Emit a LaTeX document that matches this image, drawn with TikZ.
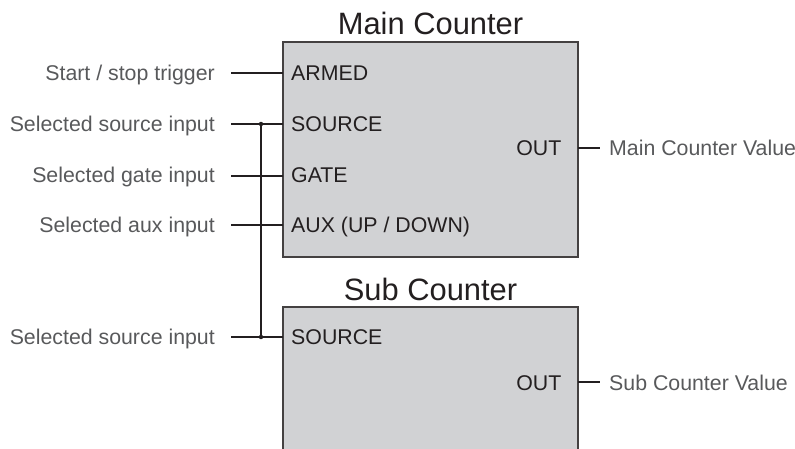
\documentclass[tikz,border=0pt]{standalone}
\usepackage{fontspec}
\setmainfont{Liberation Sans}
\definecolor{boxgray}{RGB}{209,210,212}
\definecolor{labelgray}{RGB}{88,89,91}
\definecolor{dark}{RGB}{35,31,32}
\tikzset{
  inlabel/.style={anchor=base east,inner sep=0pt,text=labelgray,font=\fontsize{21.4}{24}\selectfont},
  outlabel/.style={anchor=base west,inner sep=0pt,text=labelgray,font=\fontsize{21.4}{24}\selectfont},
  portlabel/.style={inner sep=0pt,text=dark,font=\fontsize{21.4}{24}\selectfont},
  title/.style={anchor=base,inner sep=0pt,text=dark,font=\fontsize{31}{34}\selectfont},
  wire/.style={draw=dark,line width=1.1pt},
  boxline/.style={draw=dark!85,line width=1.4pt},
  junction/.style={circle,fill=dark,inner sep=0pt,minimum size=4.5pt}
}
\begin{document}
\begin{tikzpicture}[x=1bp,y=-1bp]
\useasboundingbox (0,0) rectangle (795,449);
% boxes
\fill[boxgray] (283,42) rectangle (578,257);
\draw[boxline] (283,42) rectangle (578,257);
\fill[boxgray] (283,307) rectangle (578,452);
\draw[boxline] (283,452) -- (283,307) -- (578,307) -- (578,452);
% titles
\node[title] (maint) at (430.5,35) {Main Counter};
\node[title] (subt) at (430.5,301) {Sub Counter};
% port coordinates on box edges
\coordinate (pArmed) at (283,73);
\coordinate (pSrc) at (283,124);
\coordinate (pGate) at (283,176);
\coordinate (pAux) at (283,225);
\coordinate (pSubSrc) at (283,337);
\coordinate (pOut) at (578,148);
\coordinate (pSubOut) at (578,382);
% wire start coordinates
\coordinate (sArmed) at (231,73);
\coordinate (sSrc) at (231,124);
\coordinate (sGate) at (231,176);
\coordinate (sAux) at (231,225);
\coordinate (sSubSrc) at (231,337);
\coordinate (eOut) at (600,148);
\coordinate (eSubOut) at (600,382);
% port labels
\node[portlabel,anchor=base west] (lArmed) at (291,80.5) {ARMED};
\node[portlabel,anchor=base west] (lSrc) at (291,131.5) {SOURCE};
\node[portlabel,anchor=base west] (lGate) at (291,183) {GATE};
\node[portlabel,anchor=base west] (lAux) at (291,232.5) {AUX (UP / DOWN)};
\node[portlabel,anchor=base west] (lSubSrc) at (291,344.5) {SOURCE};
\node[portlabel,anchor=base east] (lOut) at (561.5,156) {OUT};
\node[portlabel,anchor=base east] (lSubOut) at (561.5,390) {OUT};
% input labels
\node[inlabel] (tArmed) at (215,80.5) {Start / stop trigger};
\node[inlabel] (tSrc) at (215,131.5) {Selected source input};
\node[inlabel] (tGate) at (215,183) {Selected gate input};
\node[inlabel] (tAux) at (215,232.5) {Selected aux input};
\node[inlabel] (tSubSrc) at (215,344.5) {Selected source input};
\node[outlabel] (tOut) at (609,156) {Main Counter Value};
\node[outlabel] (tSubOut) at (609,390) {Sub Counter Value};
% wires
\draw[wire] (sArmed) -- (pArmed);
\draw[wire] (sSrc) -- (pSrc);
\draw[wire] (sGate) -- (pGate);
\draw[wire] (sAux) -- (pAux);
\draw[wire] (sSubSrc) -- (pSubSrc);
\draw[wire] (pOut) -- (eOut);
\draw[wire] (pSubOut) -- (eSubOut);
\node[junction] (j1) at (261,124) {};
\node[junction] (j2) at (261,337) {};
\draw[wire] (j1.center) -- (j2.center);
\end{tikzpicture}
\end{document}
